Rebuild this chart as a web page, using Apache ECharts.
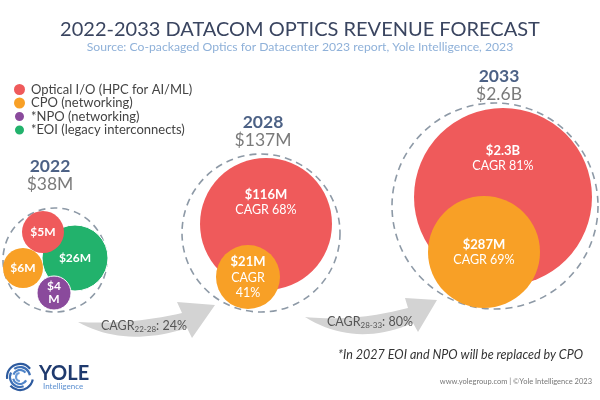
<!DOCTYPE html>
<html><head><meta charset="utf-8">
<script src="https://cdn.jsdelivr.net/npm/echarts@6/dist/echarts.min.js"></script>
<style>html,body{margin:0;padding:0;background:#fff}#c{width:600px;height:400px}</style>
</head><body><div id="c"></div>
<script>
// ---------- DATA ----------
const years = ['2022', '2028', '2033'];
const totals = ['$38M', '$137M', '$2.6B'];
const segments = ['Optical I/O (HPC for AI/ML)', 'CPO (networking)', '*NPO (networking)', '*EOI (legacy interconnects)'];
const opticalIO = [5, 116, 2300];      // $M
const cpo = [6, 21, 287];              // $M
const npo = [4, null, null];           // $M
const eoi = [26, null, null];          // $M
const opticalIOCagr = [null, '68%', '81%'];
const cpoCagr = [null, '41%', '69%'];
const periodLabels = ['22-28', '28-33'];
const periodCagr = ['24%', '80%'];
const title = '2022-2033 DATACOM OPTICS REVENUE FORECAST';
const subtitle = 'Source: Co-packaged Optics for Datacenter 2023 report, Yole Intelligence, 2023';
const footnote = '*In 2027 EOI and NPO will be replaced by CPO';
const footer = 'www.yolegroup.com | \u00A9Yole Intelligence 2023';

// ---------- LAYOUT (pixel space) ----------
const FONT = 'Lato, "Open Sans", sans-serif';
const colors = ['#ef5a5b', '#f8a026', '#8a4a9c', '#22b26c'];
// per segment, per year: [cx, cy, r, labelDy, stacked]
const circleLayout = [
  [[43, 232, 21, 0, 0], [266, 224, 66, -22, 0], [503, 197, 89, -39, 0]],
  [[23, 268, 20, 0, 0], [248, 277, 32, 0, 1], [484, 252, 56, 0, 0]],
  [[54, 293, 17, 0, 1], null, null],
  [[75, 258, 33, 0, 0], null, null]
];
const ringLayout = [[55, 260, 52], [261, 233, 79], [495, 206, 103]];
const headLayout = [[50, 175], [263, 131], [499, 85]];
// arrow: tail, upper ctrl, upper head-base, head top, tip, head bottom, lower head-base, lower ctrl
const arrowShapes = [
  [[78, 322], [130, 325], [182, 313], [177, 302], [215, 305], [192, 338], [187, 328], [125, 348]],
  [[305, 317], [355, 322], [408, 308], [405, 298], [437, 300], [418, 332], [413, 323], [355, 348]]
];
const arrowTextPos = [[101, 326], [327, 322]];

function fmt(v) {
  return v >= 1000 ? '$' + (v / 1000).toFixed(1) + 'B' : '$' + v + 'M';
}
function quad(p0, c, p1, n) {
  const pts = [];
  for (let i = 0; i <= n; i++) {
    const t = i / n, u = 1 - t;
    pts.push([u * u * p0[0] + 2 * u * t * c[0] + t * t * p1[0], u * u * p0[1] + 2 * u * t * c[1] + t * t * p1[1]]);
  }
  return pts;
}
function arrowPoints(s) {
  const up = quad(s[0], s[1], s[2], 20);
  const low = quad(s[6], s[7], s[0], 20);
  return up.concat([s[3], s[4], s[5]], low);
}
const segValues = [opticalIO, cpo, npo, eoi];
const segCagr = [opticalIOCagr, cpoCagr, [], []];

const zOrder = [1, 2, 3, 0];
const series = [];
segments.forEach((name, si) => {
  const data = [];
  segValues[si].forEach((v, yi) => {
    if (v == null) return;
    const L = circleLayout[si][yi];
    const cg = segCagr[si][yi];
    let txt;
    if (L[4] && !cg) {
      const s = fmt(v);
      txt = '{v|' + s.slice(0, -1) + '}\n{v|' + s.slice(-1) + '}';
    } else if (L[4]) {
      txt = '{v2|' + fmt(v) + '}\n{c|CAGR}\n{c|' + cg + '}';
    } else if (cg) {
      txt = '{v2|' + fmt(v) + '}\n{c|CAGR ' + cg + '}';
    } else {
      txt = '{v|' + fmt(v) + '}';
    }
    data.push({
      value: [L[0], L[1], v],
      symbolSize: L[2] * 2,
      label: { formatter: txt, offset: [0, L[3]] }
    });
  });
  series.push({
    name: name,
    type: 'scatter',
    z: 3 + zOrder[si],
    data: data,
    itemStyle: { color: colors[si], opacity: 1, borderColor: '#fff', borderWidth: si === 1 || si === 0 ? 0 : 1 },
    label: {
      show: true, position: 'inside', color: '#fff', fontFamily: FONT,
      rich: {
        v: { fontSize: 12, fontWeight: 'bold', color: '#fff', fontFamily: FONT, lineHeight: 13 },
        v2: { fontSize: 13, fontWeight: 'bold', color: '#fff', fontFamily: FONT, lineHeight: 16 },
        c: { fontSize: 12.5, color: '#fff', fontFamily: FONT, lineHeight: 15 }
      }
    },
    emphasis: { disabled: true },
    silent: true
  });
});
series.push({
  name: 'ring', type: 'scatter', z: 2, silent: true,
  data: ringLayout.map(r => ({ value: [r[0], r[1]], symbolSize: r[2] * 2 })),
  itemStyle: { color: 'rgba(0,0,0,0)', borderColor: '#708090', borderWidth: 1.6, borderType: [7, 5] },
  emphasis: { disabled: true }
});
series.push({
  name: 'heads', type: 'scatter', z: 2, silent: true, symbolSize: 0,
  data: years.map((y, i) => ({ value: headLayout[i], label: { formatter: '{y|' + y + '}\n{t|' + totals[i] + '}' } })),
  label: {
    show: true, position: 'inside',
    rich: {
      y: { fontSize: 17.5, fontWeight: 'bold', color: '#1f3a66', fontFamily: FONT, lineHeight: 18, align: 'center' },
      t: { fontSize: 17.5, color: '#595959', fontFamily: FONT, lineHeight: 18, align: 'center' }
    }
  },
  emphasis: { disabled: true }
});

const graphics = [];
graphics.push({ type: 'text', left: 'center', top: 20, style: { text: title, fontSize: 20, fill: '#3a4560', fontFamily: FONT } });
graphics.push({ type: 'text', left: 'center', top: 41, style: { text: subtitle, fontSize: 12.2, fill: '#8fb1d9', fontFamily: FONT } });
arrowShapes.forEach((s, i) => {
  graphics.push({ type: 'polygon', shape: { points: arrowPoints(s) }, style: { fill: '#d3d3d3' }, z: 1 });
  graphics.push({
    type: 'text', x: arrowTextPos[i][0], y: arrowTextPos[i][1], z: 10,
    style: {
      text: '{a|CAGR}{s|' + periodLabels[i] + '}{a|: ' + periodCagr[i] + '}',
      verticalAlign: 'middle',
      rich: {
        a: { fontSize: 12.5, fill: '#555', fontFamily: FONT },
        s: { fontSize: 8, fill: '#555', fontFamily: FONT, padding: [6, 0, 0, 0] }
      }
    }
  });
});
graphics.push({ type: 'text', right: 17, top: 348, style: { text: footnote, fontSize: 12.5, fontStyle: 'italic', fill: '#333', fontFamily: FONT } });
graphics.push({ type: 'text', right: 8, top: 378, style: { text: footer, fontSize: 7.5, fill: '#777', fontFamily: FONT } });
const lc = [20, 377];
[[13, 0.2, 2.4, '#2d5a9e'], [13, 3.0, 5.6, '#2d5a9e'], [10, 1.2, 3.6, '#3d6fb5'], [10, 4.1, 6.1, '#3d6fb5'],
 [7, 0.5, 2.9, '#4f84c8'], [7, 3.5, 5.6, '#4f84c8'], [4, 1.6, 4.6, '#6a9bd8']].forEach(a => {
  graphics.push({ type: 'arc', shape: { cx: lc[0], cy: lc[1], r: a[0], startAngle: a[1], endAngle: a[2] }, style: { stroke: a[3], lineWidth: 2.2, fill: null } });
});
graphics.push({ type: 'text', x: 39, y: 364, style: { text: 'YOLE', fontSize: 20, fontWeight: 'bold', fill: '#1f3a6e', fontFamily: FONT } });
graphics.push({ type: 'text', x: 43, y: 382, style: { text: 'Intelligence', fontSize: 8, fill: '#5b8fd0', fontFamily: FONT } });

const chart = echarts.init(document.getElementById('c'), null, { renderer: 'canvas' });
chart.setOption({
  animation: false,
  grid: { left: 0, right: 0, top: 0, bottom: 0 },
  xAxis: { type: 'value', min: 0, max: 600, show: false },
  yAxis: { type: 'value', min: 0, max: 400, inverse: true, show: false },
  legend: {
    data: segments, orient: 'vertical', left: 8, top: 78, icon: 'circle',
    itemWidth: 11, itemHeight: 11, itemGap: 0.5, selectedMode: false,
    textStyle: { fontSize: 13, color: '#444', fontFamily: FONT, padding: [0, 0, 0, 1] }
  },
  series: series,
  graphic: graphics
});
</script></body></html>
